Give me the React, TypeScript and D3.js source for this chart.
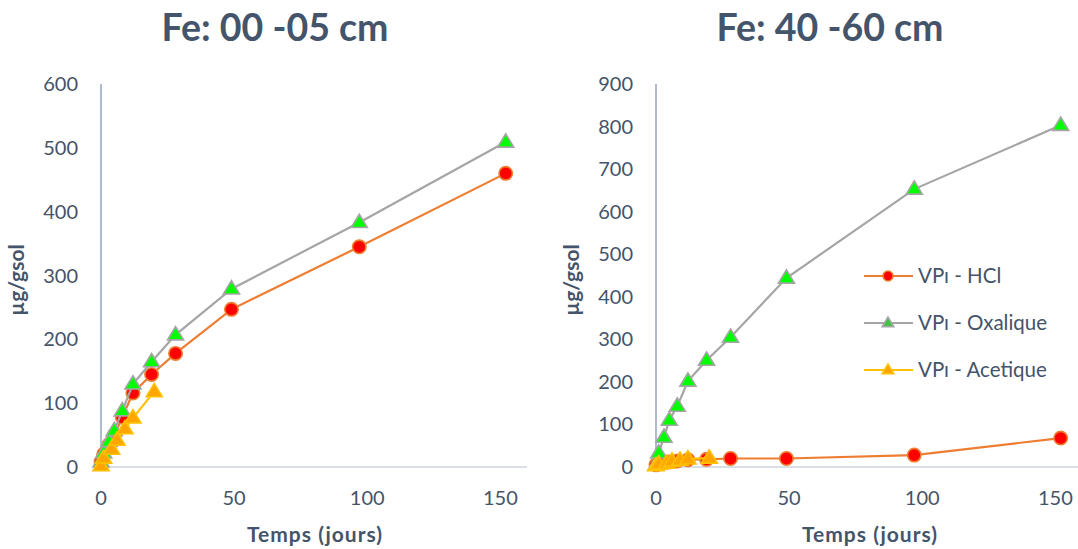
import React from "react";
import * as d3 from "d3";

const days = [0, 1, 3, 5, 8, 12, 19, 28, 49, 97, 152];
const acetiqueDays = [0, 1, 4, 6, 9, 12, 20];

const leftHCl = [8, 20, 35, 50, 78, 116, 145, 178, 247, 345, 460];
const leftOxalique = [8, 22, 40, 57, 88, 130, 165, 207, 279, 383, 509];
const leftAcetique = [2, 14, 28, 42, 60, 77, 118];

const rightHCl = [5, 8, 10, 12, 14, 17, 18, 20, 20, 28, 68];
const rightOxalique = [5, 33, 70, 110, 143, 202, 251, 305, 444, 653, 803];
const rightAcetique = [3, 7, 9, 14, 16, 19, 21];

const xTicks = [0, 50, 100, 150];
const leftYTicks = [0, 100, 200, 300, 400, 500, 600];
const rightYTicks = [0, 100, 200, 300, 400, 500, 600, 700, 800, 900];

const legendLabels = ["VPı - HCl", "VPı - Oxalique", "VPı - Acetique"];

const FONT = "Lato, 'Open Sans', sans-serif";
const TEXT = "#44546A";

type SeriesDef = {
  xs: number[];
  ys: number[];
  line: string;
  fill: string;
  stroke: string;
  shape: "circle" | "triangle";
};

function Marker({ x, y, shape, fill, stroke, size }: { x: number; y: number; shape: string; fill: string; stroke: string; size: number }) {
  if (shape === "circle") {
    return <circle cx={x} cy={y} r={size} fill={fill} stroke={stroke} strokeWidth={1.6} />;
  }
  const h = size * 1.9;
  const w = size * 2.3;
  const pts = `${x},${y - h * 0.62} ${x + w / 2},${y + h * 0.38} ${x - w / 2},${y + h * 0.38}`;
  return <polygon points={pts} fill={fill} stroke={stroke} strokeWidth={1.6} strokeLinejoin="miter" />;
}

function Chart({ x0, title, yMax, yTicks, series, showLegend }: { x0: number; title: string; yMax: number; yTicks: number[]; series: SeriesDef[]; showLegend: boolean }) {
  const axisX = x0;
  const xScale = d3.scaleLinear().domain([0, 160]).range([axisX, axisX + 426]);
  const yScale = d3.scaleLinear().domain([0, yMax]).range([467, 84]);
  const line = d3.line<[number, number]>().x((d) => xScale(d[0])).y((d) => yScale(d[1]));
  const titleX = axisX + 174;
  return (
    <g>
      <text x={titleX} y={41} textAnchor="middle" fontFamily={FONT} fontWeight={700} fontSize={37.5} fill={TEXT}>
        {title}
      </text>
      <line x1={axisX} x2={axisX} y1={84} y2={467} stroke="#AEBBD0" strokeWidth={2} />
      <line x1={axisX} x2={Math.min(axisX + 426, 1078)} y1={467} y2={467} stroke="#D9DEE7" strokeWidth={2} />
      {yTicks.map((t) => (
        <text key={t} x={axisX - 23} y={yScale(t) + 7} textAnchor="end" fontFamily={FONT} fontSize={20} fill={TEXT}>
          {t}
        </text>
      ))}
      {xTicks.map((t) => (
        <text key={t} x={xScale(t)} y={505} textAnchor="middle" fontFamily={FONT} fontSize={20} fill={TEXT}>
          {t}
        </text>
      ))}
      <text x={axisX + 214} y={542} textAnchor="middle" fontFamily={FONT} fontWeight={700} fontSize={21} fill={TEXT} letterSpacing={1}>
        Temps (jours)
      </text>
      <text transform={`translate(${axisX - 77},${280}) rotate(-90)`} textAnchor="middle" fontFamily={FONT} fontWeight={700} fontSize={21} fill={TEXT}>
        µg/gsol
      </text>
      {series.map((s, i) => {
        const pts = s.xs.map((x, j) => [x, s.ys[j]] as [number, number]);
        return (
          <g key={i}>
            <path d={line(pts) || ""} fill="none" stroke={s.line} strokeWidth={2.2} />
            {pts.map((p, j) => (
              <Marker key={j} x={xScale(p[0])} y={yScale(p[1])} shape={s.shape} fill={s.fill} stroke={s.stroke} size={s.shape === "circle" ? 6.7 : 7} />
            ))}
          </g>
        );
      })}
      {showLegend && (
        <g>
          <rect x={856} y={252} width={220} height={140} fill="#FFFFFF" />
          {series.map((s, i) => {
            const cy = 276 + i * 47;
            return (
              <g key={i}>
                <line x1={864} x2={913} y1={cy} y2={cy} stroke={s.line} strokeWidth={2} />
                <Marker x={888} y={cy} shape={s.shape} fill={s.shape === "circle" ? s.fill : i === 1 ? "#3EC43E" : s.fill} stroke={s.shape === "circle" ? s.stroke : s.line} size={5} />
                <text x={918} y={cy + 7} fontFamily={FONT} fontSize={20.5} fill={TEXT}>
                  {legendLabels[i]}
                </text>
              </g>
            );
          })}
        </g>
      )}
    </g>
  );
}

export default function App() {
  const leftSeries: SeriesDef[] = [
    { xs: days, ys: leftHCl, line: "#ED7D31", fill: "#FF0000", stroke: "#ED7D31", shape: "circle" },
    { xs: days, ys: leftOxalique, line: "#A5A5A5", fill: "#00FF00", stroke: "#A5A5A5", shape: "triangle" },
    { xs: acetiqueDays, ys: leftAcetique, line: "#FFC000", fill: "#FFA500", stroke: "#FFC000", shape: "triangle" },
  ];
  const rightSeries: SeriesDef[] = [
    { xs: days, ys: rightHCl, line: "#ED7D31", fill: "#FF0000", stroke: "#ED7D31", shape: "circle" },
    { xs: days, ys: rightOxalique, line: "#A5A5A5", fill: "#00FF00", stroke: "#A5A5A5", shape: "triangle" },
    { xs: acetiqueDays, ys: rightAcetique, line: "#FFC000", fill: "#FFA500", stroke: "#FFC000", shape: "triangle" },
  ];
  return (
    <svg width={1078} height={549} style={{ position: "absolute", left: 0, top: 0, background: "#FFFFFF" }}>
      <Chart x0={101} title="Fe: 00 -05 cm" yMax={600} yTicks={leftYTicks} series={leftSeries} showLegend={false} />
      <Chart x0={656} title="Fe: 40 -60 cm" yMax={900} yTicks={rightYTicks} series={rightSeries} showLegend={true} />
    </svg>
  );
}
